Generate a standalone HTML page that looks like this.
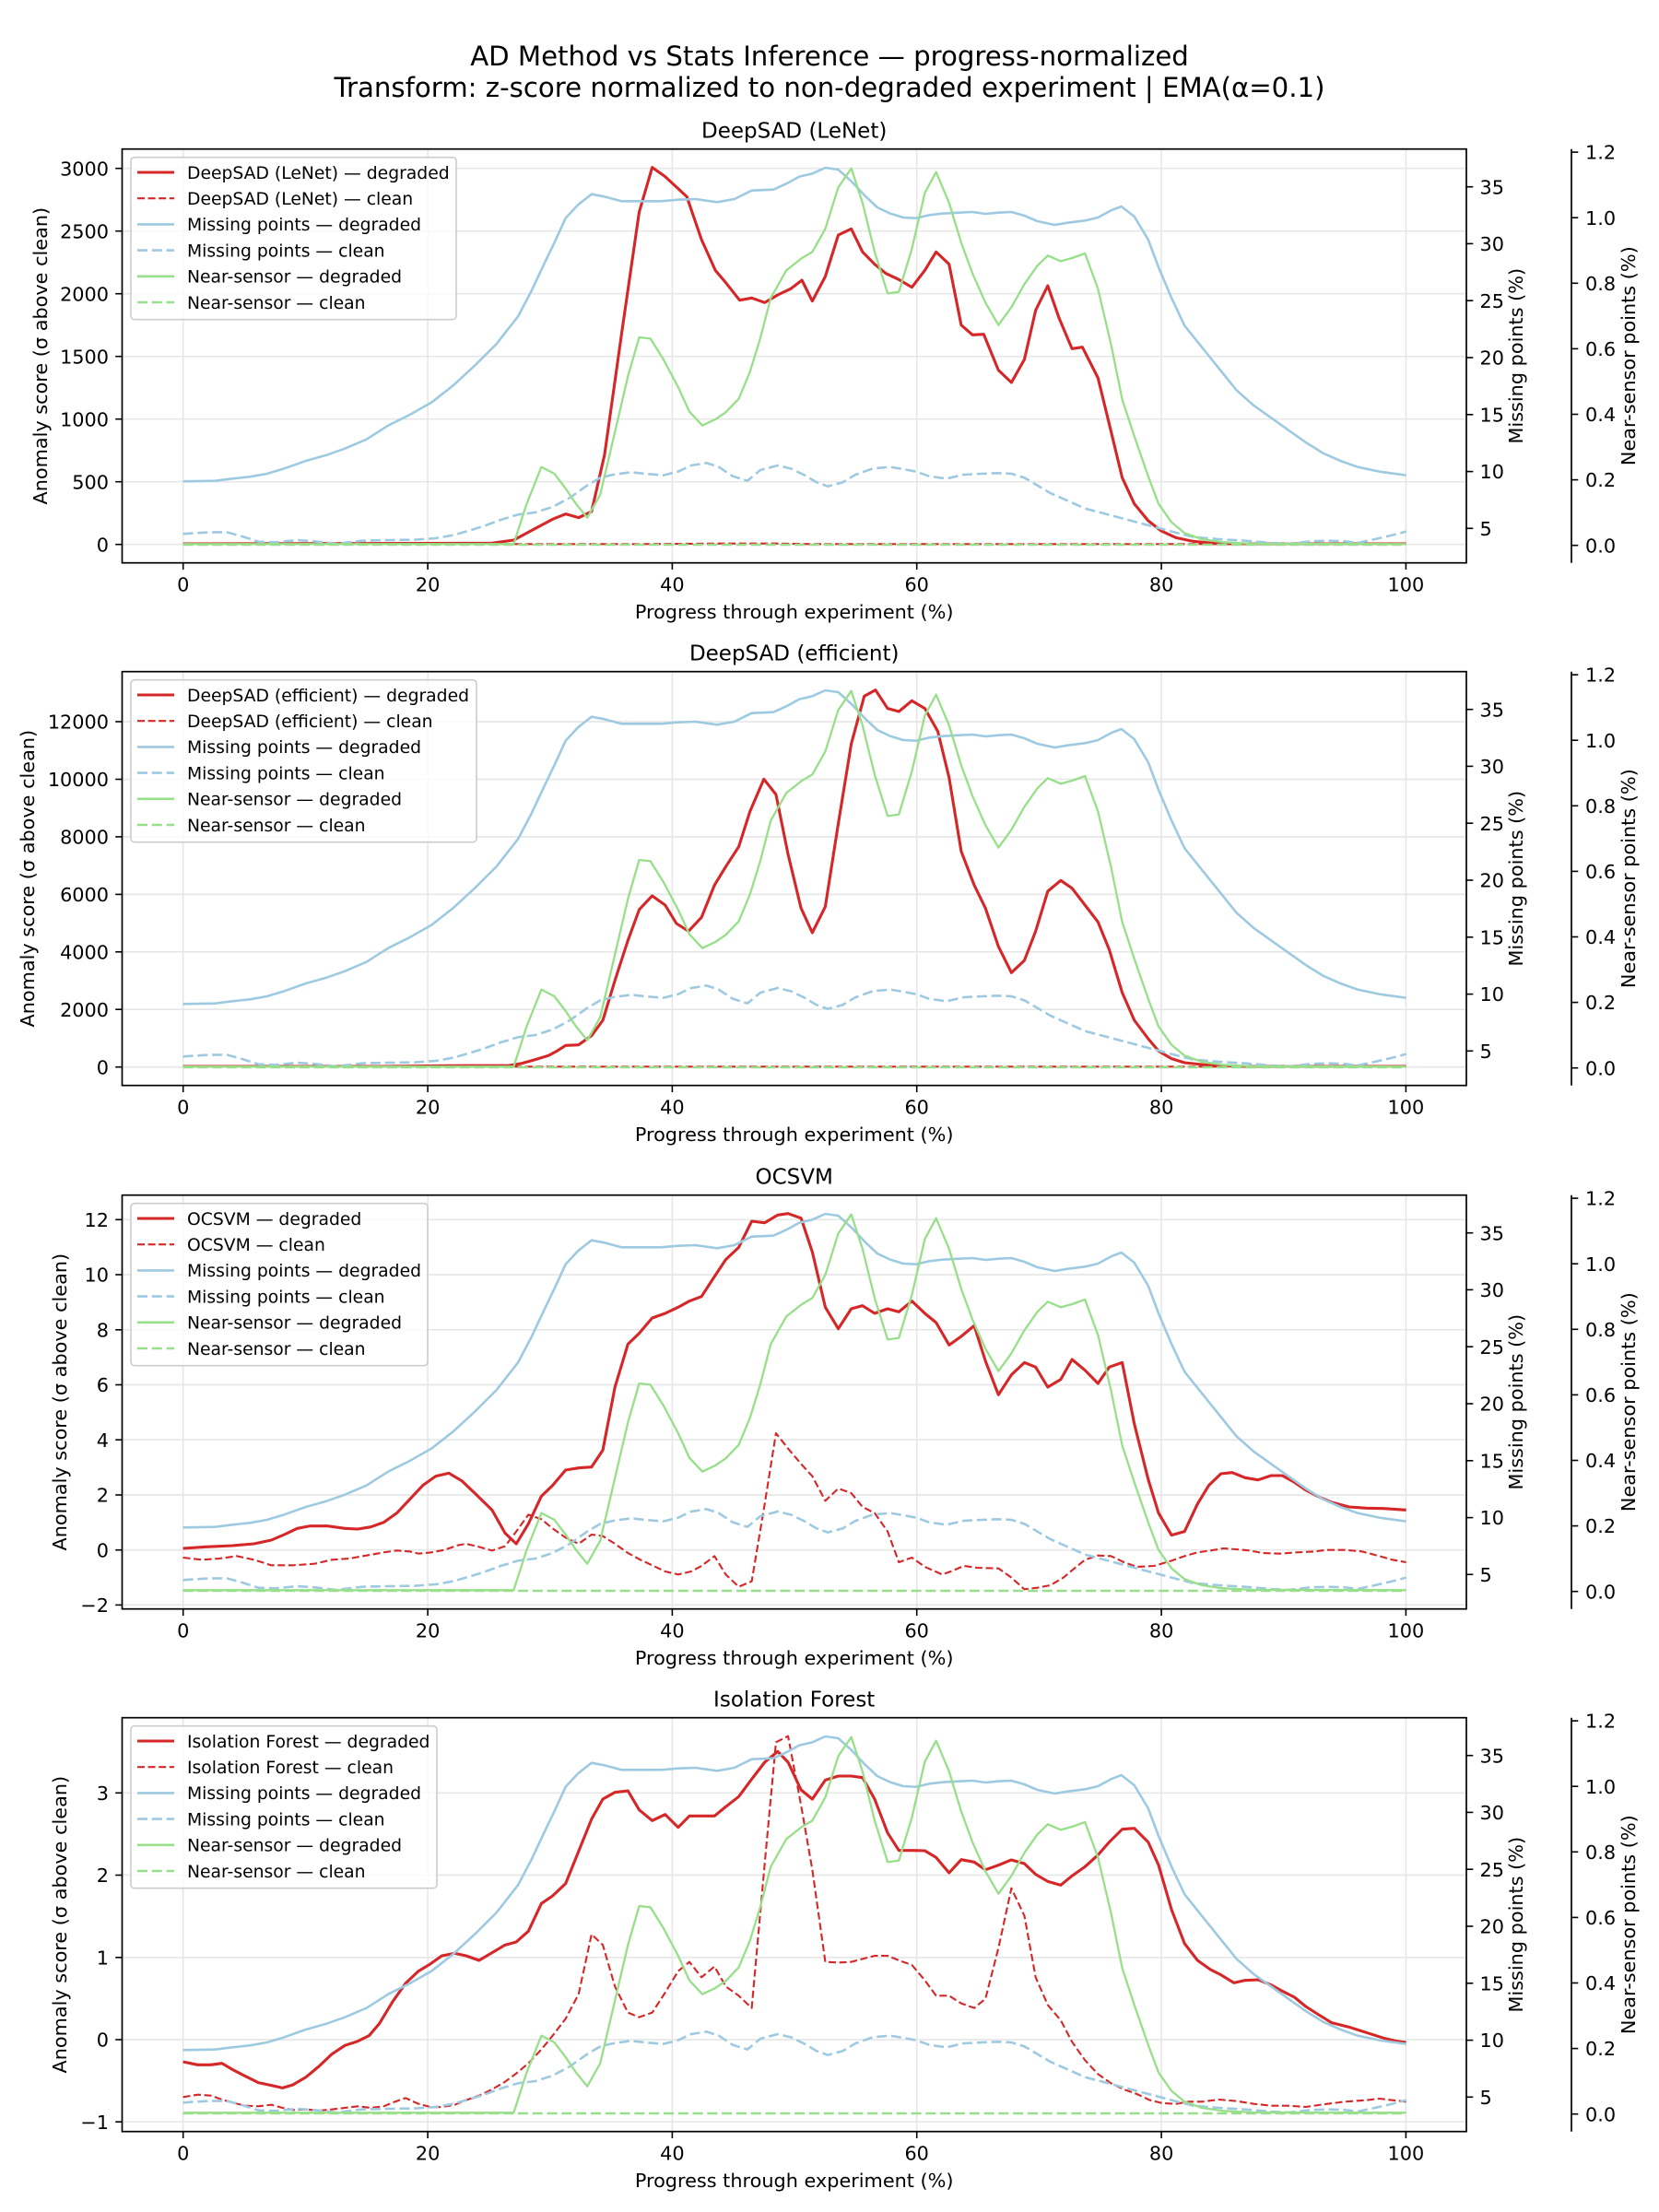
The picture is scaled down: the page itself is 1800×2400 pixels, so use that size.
<!DOCTYPE html>
<html>
<head>
<meta charset="utf-8">
<style>
html,body{margin:0;padding:0;background:#fff;}
svg{display:block;}
text{font-family:"DejaVu Sans","Liberation Sans",sans-serif;fill:#000;}
.tk{font-size:20.8px;}
.lg{font-size:18.75px;}
.ttl{font-size:23px;}
.sup{font-size:29.2px;}
.ln{fill:none;vector-effect:non-scaling-stroke;stroke-linejoin:round;stroke-linecap:butt;}
.rs{stroke:#d62728;stroke-width:3.1;}
.rd{stroke:#d62728;stroke-width:2.1;stroke-dasharray:8 3.6;}
.bs{stroke:#9ecae1;stroke-width:2.6;}
.bd{stroke:#9ecae1;stroke-width:2.6;stroke-dasharray:11 4.8;}
.gs{stroke:#98df8a;stroke-width:2.3;}
.gd{stroke:#98df8a;stroke-width:2.6;stroke-dasharray:11 4.8;}
.hs{fill:none;stroke-linecap:butt;}
</style>
</head>
<body>
<svg width="1800" height="2400" viewBox="0 0 1800 2400" xmlns="http://www.w3.org/2000/svg">
<rect x="0" y="0" width="1800" height="2400" fill="#fff"/>
<defs>
  <g id="vgrid" stroke="#e7e7e7" stroke-width="1.6">
    <line x1="198.7" y1="161.7" x2="198.7" y2="610.7"/>
    <line x1="464.1" y1="161.7" x2="464.1" y2="610.7"/>
    <line x1="729.4" y1="161.7" x2="729.4" y2="610.7"/>
    <line x1="994.7" y1="161.7" x2="994.7" y2="610.7"/>
    <line x1="1260.1" y1="161.7" x2="1260.1" y2="610.7"/>
    <line x1="1525.4" y1="161.7" x2="1525.4" y2="610.7"/>
  </g>
  <g id="twin">
    <polyline class="ln bs" points="73,1087 110,1085 130,1078 150,1072 170,1062 190,1045 215,1020 240,1000 260,980 285,950 310,905 335,870 360,830 385,775 410,710 435,640 460,550 475,470 490,380 502,310 515,230 530,185 545,152 560,160 580,175 600,175 625,175 645,170 665,168 690,178 710,168 730,140 755,137 770,118 785,95 800,85 815,66 830,72 845,110 860,155 875,195 890,215 905,228 920,230 935,220 950,215 970,212 985,210 1000,216 1015,212 1030,210 1045,222 1060,240 1080,252 1095,245 1115,238 1130,228 1145,205 1157,192 1172,225 1188,300 1200,390 1215,490 1230,580 1250,650 1270,720 1290,790 1310,840 1330,880 1350,920 1370,960 1390,995 1410,1020 1430,1040 1455,1055 1486,1067"/>
    <polyline class="ln bd" points="73,1258 100,1253 123,1252 140,1265 160,1283 180,1285 205,1278 225,1282 250,1290 280,1280 310,1278 340,1277 365,1272 385,1262 400,1250 420,1233 440,1212 460,1195 480,1188 500,1170 520,1140 540,1100 555,1075 570,1065 590,1057 610,1063 628,1067 645,1055 660,1035 678,1027 692,1040 708,1070 725,1085 740,1050 760,1035 775,1045 790,1065 805,1090 818,1103 835,1090 850,1065 870,1045 890,1040 905,1047 920,1055 935,1070 955,1078 975,1065 995,1062 1015,1060 1030,1062 1045,1075 1060,1100 1075,1125 1095,1150 1115,1175 1135,1190 1155,1205 1175,1220 1195,1235 1215,1250 1240,1268 1270,1275 1300,1280 1330,1287 1350,1290 1375,1282 1395,1280 1415,1282 1430,1287 1450,1275 1470,1262 1486,1250"/>
    <polyline class="ln gs" points="73,1291 455,1291 470,1160 487,1040 502,1062 515,1110 527,1160 540,1205 555,1130 570,950 587,745 600,618 613,622 628,690 645,780 658,860 673,905 688,885 700,862 715,818 728,730 740,620 752,490 770,400 788,360 800,340 815,265 830,130 845,68 858,180 872,340 887,475 900,470 915,330 930,148 943,80 958,180 972,310 985,410 1000,505 1015,578 1030,520 1045,445 1060,385 1072,352 1087,370 1100,360 1115,345 1130,460 1145,640 1158,820 1172,940 1188,1070 1200,1160 1215,1220 1230,1255 1250,1275 1275,1285 1310,1290 1486,1291"/>
    <polyline class="ln gd" points="73,1293 1486,1293"/>
  </g>
  <g id="front">
    <rect x="132.5" y="161.7" width="1458.5" height="449" fill="none" stroke="#000" stroke-width="1.7"/>
    <g stroke="#000" stroke-width="1.6">
      <line x1="198.7" y1="610.7" x2="198.7" y2="618"/>
      <line x1="464.1" y1="610.7" x2="464.1" y2="618"/>
      <line x1="729.4" y1="610.7" x2="729.4" y2="618"/>
      <line x1="994.7" y1="610.7" x2="994.7" y2="618"/>
      <line x1="1260.1" y1="610.7" x2="1260.1" y2="618"/>
      <line x1="1525.4" y1="610.7" x2="1525.4" y2="618"/>
      <line x1="1591" y1="202.7" x2="1598.3" y2="202.7"/>
      <line x1="1591" y1="264.4" x2="1598.3" y2="264.4"/>
      <line x1="1591" y1="326.2" x2="1598.3" y2="326.2"/>
      <line x1="1591" y1="388" x2="1598.3" y2="388"/>
      <line x1="1591" y1="449.8" x2="1598.3" y2="449.8"/>
      <line x1="1591" y1="511.6" x2="1598.3" y2="511.6"/>
      <line x1="1591" y1="573.3" x2="1598.3" y2="573.3"/>
      <line x1="1705" y1="161.7" x2="1705" y2="610.7" stroke-width="1.7"/>
      <line x1="1705" y1="591.7" x2="1712.3" y2="591.7"/>
      <line x1="1705" y1="520.6" x2="1712.3" y2="520.6"/>
      <line x1="1705" y1="449.5" x2="1712.3" y2="449.5"/>
      <line x1="1705" y1="378.4" x2="1712.3" y2="378.4"/>
      <line x1="1705" y1="307.3" x2="1712.3" y2="307.3"/>
      <line x1="1705" y1="236.2" x2="1712.3" y2="236.2"/>
      <line x1="1705" y1="165.1" x2="1712.3" y2="165.1"/>
    </g>
    <g class="tk" text-anchor="middle">
      <text x="198.7" y="641.5">0</text>
      <text x="464.1" y="641.5">20</text>
      <text x="729.4" y="641.5">40</text>
      <text x="994.7" y="641.5">60</text>
      <text x="1260.1" y="641.5">80</text>
      <text x="1525.4" y="641.5">100</text>
      <text x="861.7" y="671">Progress through experiment (%)</text>
    </g>
    <g class="tk" text-anchor="start">
      <text x="1605.5" y="210.3">35</text>
      <text x="1605.5" y="272">30</text>
      <text x="1605.5" y="333.8">25</text>
      <text x="1605.5" y="395.6">20</text>
      <text x="1605.5" y="457.4">15</text>
      <text x="1605.5" y="519.2">10</text>
      <text x="1605.5" y="580.9">5</text>
      <text x="1720" y="599.3">0.0</text>
      <text x="1720" y="528.2">0.2</text>
      <text x="1720" y="457.1">0.4</text>
      <text x="1720" y="386">0.6</text>
      <text x="1720" y="314.9">0.8</text>
      <text x="1720" y="243.8">1.0</text>
      <text x="1720" y="172.7">1.2</text>
    </g>
    <text class="tk" text-anchor="middle" transform="translate(1652,386.2) rotate(-90)">Missing points (%)</text>
    <text class="tk" text-anchor="middle" transform="translate(1774,386.2) rotate(-90)">Near-sensor points (%)</text>
  </g>
  <g id="leghandles">
    <line class="hs" x1="149" y1="187" x2="189" y2="187" stroke="#d62728" stroke-width="3.1"/>
    <line class="hs" x1="149" y1="215.2" x2="189" y2="215.2" stroke="#d62728" stroke-width="2.1" stroke-dasharray="8 3.6"/>
    <line class="hs" x1="149" y1="243.4" x2="189" y2="243.4" stroke="#9ecae1" stroke-width="2.6"/>
    <line class="hs" x1="149" y1="271.6" x2="189" y2="271.6" stroke="#9ecae1" stroke-width="2.6" stroke-dasharray="11 4.8"/>
    <line class="hs" x1="149" y1="299.8" x2="189" y2="299.8" stroke="#98df8a" stroke-width="2.6"/>
    <line class="hs" x1="149" y1="328" x2="189" y2="328" stroke="#98df8a" stroke-width="2.6" stroke-dasharray="11 4.8"/>
    <g class="lg">
      <text x="203" y="250.2">Missing points — degraded</text>
      <text x="203" y="278.4">Missing points — clean</text>
      <text x="203" y="306.6">Near-sensor — degraded</text>
      <text x="203" y="334.8">Near-sensor — clean</text>
    </g>
  </g>
</defs>

<text class="sup" x="900" y="71" text-anchor="middle">AD Method vs Stats Inference — progress-normalized</text>
<text class="sup" x="900" y="105" text-anchor="middle">Transform: z-score normalized to non-degraded experiment | EMA(α=0.1)</text>

<!-- PANEL 1 -->
<g>
  <text class="ttl" x="861.7" y="149.5" text-anchor="middle">DeepSAD (LeNet)</text>
  <use href="#vgrid"/>
  <g stroke="#e7e7e7" stroke-width="1.7">
    <line x1="132.5" x2="1591" y1="590.7" y2="590.7"/>
    <line x1="132.5" x2="1591" y1="522.7" y2="522.7"/>
    <line x1="132.5" x2="1591" y1="454.7" y2="454.7"/>
    <line x1="132.5" x2="1591" y1="386.7" y2="386.7"/>
    <line x1="132.5" x2="1591" y1="318.7" y2="318.7"/>
    <line x1="132.5" x2="1591" y1="250.7" y2="250.7"/>
    <line x1="132.5" x2="1591" y1="182.7" y2="182.7"/>
  </g>
  <g transform="translate(130,160) scale(0.9392,0.33333)">
    <polyline class="ln rs" points="73,1290 430,1288 455,1278 480,1240 500,1210 515,1193 530,1205 545,1185 560,1000 580,600 600,210 615,65 630,95 655,160 672,300 688,400 700,440 716,497 730,490 745,505 760,480 775,460 788,432 800,500 815,420 830,285 845,265 858,340 872,380 885,410 900,430 915,455 930,400 943,340 958,380 972,578 985,610 998,608 1015,725 1030,765 1045,690 1058,530 1072,450 1085,555 1100,655 1112,650 1130,750 1143,900 1158,1075 1172,1160 1188,1215 1203,1248 1220,1270 1240,1282 1270,1290 1486,1290"/>
    <polyline class="ln rd" points="73,1291 600,1291 700,1289 760,1289 800,1291 1486,1291"/>
    <use href="#twin"/>
  </g>
  <use href="#front"/>
  <text class="tk" text-anchor="middle" transform="translate(51,386.2) rotate(-90)">Anomaly score (σ above clean)</text>
  <g stroke="#000" stroke-width="1.6">
    <line x1="125.2" x2="132.5" y1="590.7" y2="590.7"/>
    <line x1="125.2" x2="132.5" y1="522.7" y2="522.7"/>
    <line x1="125.2" x2="132.5" y1="454.7" y2="454.7"/>
    <line x1="125.2" x2="132.5" y1="386.7" y2="386.7"/>
    <line x1="125.2" x2="132.5" y1="318.7" y2="318.7"/>
    <line x1="125.2" x2="132.5" y1="250.7" y2="250.7"/>
    <line x1="125.2" x2="132.5" y1="182.7" y2="182.7"/>
  </g>
  <g class="tk" text-anchor="end">
    <text x="118" y="598.3">0</text>
    <text x="118" y="530.3">500</text>
    <text x="118" y="462.3">1000</text>
    <text x="118" y="394.3">1500</text>
    <text x="118" y="326.3">2000</text>
    <text x="118" y="258.3">2500</text>
    <text x="118" y="190.3">3000</text>
  </g>
  <rect x="142" y="170.7" width="353" height="176" rx="4" fill="#fff" fill-opacity="0.8" stroke="#cccccc" stroke-width="1.6"/>
  <use href="#leghandles"/>
  <g class="lg">
    <text x="203" y="193.8">DeepSAD (LeNet) — degraded</text>
    <text x="203" y="222">DeepSAD (LeNet) — clean</text>
  </g>
</g>

<!-- PANEL 2 -->
<g transform="translate(0,567)">
  <text class="ttl" x="861.7" y="149.5" text-anchor="middle">DeepSAD (efficient)</text>
  <use href="#vgrid"/>
  <g stroke="#e7e7e7" stroke-width="1.7">
    <line x1="132.5" x2="1591" y1="590.7" y2="590.7"/>
    <line x1="132.5" x2="1591" y1="528.2" y2="528.2"/>
    <line x1="132.5" x2="1591" y1="465.8" y2="465.8"/>
    <line x1="132.5" x2="1591" y1="403.4" y2="403.4"/>
    <line x1="132.5" x2="1591" y1="340.9" y2="340.9"/>
    <line x1="132.5" x2="1591" y1="278.5" y2="278.5"/>
    <line x1="132.5" x2="1591" y1="216" y2="216"/>
  </g>
  <g transform="translate(130,160) scale(0.9392,0.33333)">
    <polyline class="ln rs" points="73,1290 300,1290 380,1288 450,1287 465,1280 480,1268 495,1255 505,1240 515,1222 530,1220 545,1190 558,1140 572,1010 587,880 600,780 615,735 630,765 643,825 657,850 672,805 687,700 700,640 715,575 728,460 744,355 758,405 772,600 787,775 800,855 815,770 830,500 845,240 860,85 873,65 887,125 900,135 915,100 930,125 945,200 958,350 972,590 987,700 1000,775 1015,900 1030,985 1045,945 1058,850 1072,720 1087,685 1100,710 1115,765 1130,820 1143,910 1158,1050 1172,1140 1188,1200 1200,1240 1215,1265 1230,1278 1260,1287 1300,1290 1486,1290"/>
    <polyline class="ln rd" points="73,1291 1486,1291"/>
    <use href="#twin"/>
  </g>
  <use href="#front"/>
  <text class="tk" text-anchor="middle" transform="translate(37,386.2) rotate(-90)">Anomaly score (σ above clean)</text>
  <g stroke="#000" stroke-width="1.6">
    <line x1="125.2" x2="132.5" y1="590.7" y2="590.7"/>
    <line x1="125.2" x2="132.5" y1="528.2" y2="528.2"/>
    <line x1="125.2" x2="132.5" y1="465.8" y2="465.8"/>
    <line x1="125.2" x2="132.5" y1="403.4" y2="403.4"/>
    <line x1="125.2" x2="132.5" y1="340.9" y2="340.9"/>
    <line x1="125.2" x2="132.5" y1="278.5" y2="278.5"/>
    <line x1="125.2" x2="132.5" y1="216" y2="216"/>
  </g>
  <g class="tk" text-anchor="end">
    <text x="118" y="598.3">0</text>
    <text x="118" y="535.8">2000</text>
    <text x="118" y="473.4">4000</text>
    <text x="118" y="411">6000</text>
    <text x="118" y="348.5">8000</text>
    <text x="118" y="286.1">10000</text>
    <text x="118" y="223.6">12000</text>
  </g>
  <rect x="142" y="170.7" width="375" height="176" rx="4" fill="#fff" fill-opacity="0.8" stroke="#cccccc" stroke-width="1.6"/>
  <use href="#leghandles"/>
  <g class="lg">
    <text x="203" y="193.8">DeepSAD (efficient) — degraded</text>
    <text x="203" y="222">DeepSAD (efficient) — clean</text>
  </g>
</g>

<!-- PANEL 3 -->
<g transform="translate(0,1135)">
  <text class="ttl" x="861.7" y="149.5" text-anchor="middle">OCSVM</text>
  <use href="#vgrid"/>
  <g stroke="#e7e7e7" stroke-width="1.7">
    <line x1="132.5" x2="1591" y1="606.4" y2="606.4"/>
    <line x1="132.5" x2="1591" y1="546.7" y2="546.7"/>
    <line x1="132.5" x2="1591" y1="487" y2="487"/>
    <line x1="132.5" x2="1591" y1="427.2" y2="427.2"/>
    <line x1="132.5" x2="1591" y1="367.5" y2="367.5"/>
    <line x1="132.5" x2="1591" y1="307.8" y2="307.8"/>
    <line x1="132.5" x2="1591" y1="248" y2="248"/>
    <line x1="132.5" x2="1591" y1="188.3" y2="188.3"/>
  </g>
  <g transform="translate(130,160) scale(0.9392,0.33333)">
    <polyline class="ln rs" points="73,1155 100,1150 130,1146 155,1140 175,1128 190,1110 205,1090 220,1082 240,1082 260,1090 275,1092 290,1085 305,1070 320,1040 335,995 350,950 365,920 380,910 395,935 410,975 430,1030 445,1105 458,1140 472,1075 487,985 500,950 515,900 530,893 545,890 558,835 572,630 587,490 600,455 615,405 630,390 645,370 658,350 672,335 687,270 700,215 715,175 730,90 745,95 760,70 772,65 787,80 800,190 815,370 830,440 845,375 858,365 872,390 887,375 900,385 915,350 930,390 943,420 958,493 972,465 987,430 1000,545 1015,655 1030,590 1045,550 1058,565 1072,630 1087,605 1100,540 1115,575 1130,618 1143,565 1158,550 1172,750 1188,930 1200,1040 1215,1112 1230,1100 1245,1010 1258,950 1272,912 1285,908 1300,925 1315,932 1330,918 1343,918 1357,940 1370,965 1385,987 1400,1005 1420,1020 1440,1024 1460,1025 1486,1030"/>
    <polyline class="ln rd" points="73,1185 95,1192 115,1188 135,1180 155,1192 175,1210 200,1210 225,1205 245,1192 265,1188 285,1178 305,1168 320,1162 335,1165 345,1172 360,1168 375,1160 390,1145 400,1140 415,1150 430,1162 445,1148 458,1100 472,1045 487,1060 500,1090 515,1120 530,1140 545,1110 558,1115 572,1140 587,1170 600,1190 615,1210 630,1230 645,1240 660,1230 672,1212 687,1180 700,1240 715,1280 730,1262 745,1010 758,780 772,830 787,880 800,920 815,1000 830,960 845,975 858,1020 872,1040 887,1100 900,1200 915,1185 930,1215 950,1240 960,1230 975,1212 990,1218 1015,1220 1030,1250 1045,1288 1060,1283 1075,1275 1090,1250 1105,1215 1115,1192 1130,1178 1145,1180 1160,1200 1175,1215 1195,1212 1215,1195 1230,1180 1245,1168 1260,1162 1275,1155 1290,1158 1305,1162 1320,1170 1340,1172 1360,1168 1380,1165 1395,1160 1415,1160 1435,1165 1455,1180 1470,1192 1486,1200"/>
    <use href="#twin"/>
  </g>
  <use href="#front"/>
  <text class="tk" text-anchor="middle" transform="translate(72,386.2) rotate(-90)">Anomaly score (σ above clean)</text>
  <g stroke="#000" stroke-width="1.6">
    <line x1="125.2" x2="132.5" y1="606.4" y2="606.4"/>
    <line x1="125.2" x2="132.5" y1="546.7" y2="546.7"/>
    <line x1="125.2" x2="132.5" y1="487" y2="487"/>
    <line x1="125.2" x2="132.5" y1="427.2" y2="427.2"/>
    <line x1="125.2" x2="132.5" y1="367.5" y2="367.5"/>
    <line x1="125.2" x2="132.5" y1="307.8" y2="307.8"/>
    <line x1="125.2" x2="132.5" y1="248" y2="248"/>
    <line x1="125.2" x2="132.5" y1="188.3" y2="188.3"/>
  </g>
  <g class="tk" text-anchor="end">
    <text x="118" y="614">−2</text>
    <text x="118" y="554.3">0</text>
    <text x="118" y="494.6">2</text>
    <text x="118" y="434.8">4</text>
    <text x="118" y="375.1">6</text>
    <text x="118" y="315.4">8</text>
    <text x="118" y="255.6">10</text>
    <text x="118" y="195.9">12</text>
  </g>
  <rect x="142" y="170.7" width="322" height="176" rx="4" fill="#fff" fill-opacity="0.8" stroke="#cccccc" stroke-width="1.6"/>
  <use href="#leghandles"/>
  <g class="lg">
    <text x="203" y="193.8">OCSVM — degraded</text>
    <text x="203" y="222">OCSVM — clean</text>
  </g>
</g>

<!-- PANEL 4 -->
<g transform="translate(0,1702)">
  <text class="ttl" x="861.7" y="149.5" text-anchor="middle">Isolation Forest</text>
  <use href="#vgrid"/>
  <g stroke="#e7e7e7" stroke-width="1.7">
    <line x1="132.5" x2="1591" y1="600.2" y2="600.2"/>
    <line x1="132.5" x2="1591" y1="511" y2="511"/>
    <line x1="132.5" x2="1591" y1="421.8" y2="421.8"/>
    <line x1="132.5" x2="1591" y1="332.5" y2="332.5"/>
    <line x1="132.5" x2="1591" y1="243.3" y2="243.3"/>
  </g>
  <g transform="translate(130,160) scale(0.9392,0.33333)">
    <polyline class="ln rs" points="73,1125 90,1135 105,1135 118,1130 130,1150 145,1172 160,1193 175,1202 188,1210 200,1200 215,1175 230,1140 245,1100 260,1072 275,1058 288,1040 300,1000 315,930 330,870 345,830 358,808 372,780 387,772 400,780 415,795 430,770 445,745 458,735 472,700 487,610 500,585 515,545 530,440 545,335 558,270 572,248 587,243 600,305 615,340 630,320 645,362 658,325 672,325 687,325 700,295 715,262 730,205 745,150 760,115 772,150 787,240 800,270 815,208 830,195 845,195 858,200 872,270 887,380 900,437 915,437 930,438 943,460 958,510 972,467 987,475 1000,500 1015,485 1030,468 1045,480 1058,515 1072,538 1087,550 1100,520 1115,490 1130,452 1143,410 1158,368 1172,365 1188,410 1200,485 1215,630 1230,740 1245,795 1260,825 1272,842 1287,868 1300,860 1315,858 1330,875 1343,895 1357,915 1370,945 1385,972 1400,998 1420,1012 1440,1030 1460,1048 1475,1058 1486,1062"/>
    <polyline class="ln rd" points="73,1240 90,1232 105,1235 118,1248 130,1258 145,1268 160,1270 175,1265 188,1275 200,1282 215,1280 230,1284 245,1280 260,1275 275,1270 290,1275 305,1270 315,1258 330,1243 345,1262 360,1273 372,1272 387,1265 400,1250 415,1235 430,1215 445,1190 458,1163 472,1130 487,1085 500,1040 515,985 530,905 545,710 558,745 572,880 587,965 600,980 615,965 630,900 645,830 658,800 672,850 687,815 700,880 715,910 730,950 745,480 758,85 772,65 787,290 800,500 815,800 830,802 845,800 858,790 872,780 887,780 900,795 915,810 930,860 943,910 958,910 972,935 987,950 1000,920 1015,755 1030,560 1045,650 1058,850 1072,940 1087,990 1100,1060 1115,1120 1130,1165 1145,1195 1160,1215 1175,1230 1190,1250 1205,1260 1220,1262 1235,1255 1250,1255 1270,1248 1290,1253 1310,1262 1330,1268 1350,1268 1370,1272 1395,1262 1415,1255 1440,1250 1455,1245 1470,1250 1486,1255"/>
    <use href="#twin"/>
  </g>
  <use href="#front"/>
  <text class="tk" text-anchor="middle" transform="translate(72,386.2) rotate(-90)">Anomaly score (σ above clean)</text>
  <g stroke="#000" stroke-width="1.6">
    <line x1="125.2" x2="132.5" y1="600.2" y2="600.2"/>
    <line x1="125.2" x2="132.5" y1="511" y2="511"/>
    <line x1="125.2" x2="132.5" y1="421.8" y2="421.8"/>
    <line x1="125.2" x2="132.5" y1="332.5" y2="332.5"/>
    <line x1="125.2" x2="132.5" y1="243.3" y2="243.3"/>
  </g>
  <g class="tk" text-anchor="end">
    <text x="118" y="607.8">−1</text>
    <text x="118" y="518.6">0</text>
    <text x="118" y="429.4">1</text>
    <text x="118" y="340.1">2</text>
    <text x="118" y="250.9">3</text>
  </g>
  <rect x="142" y="170.7" width="332" height="176" rx="4" fill="#fff" fill-opacity="0.8" stroke="#cccccc" stroke-width="1.6"/>
  <use href="#leghandles"/>
  <g class="lg">
    <text x="203" y="193.8">Isolation Forest — degraded</text>
    <text x="203" y="222">Isolation Forest — clean</text>
  </g>
</g>
</svg>
</body>
</html>
